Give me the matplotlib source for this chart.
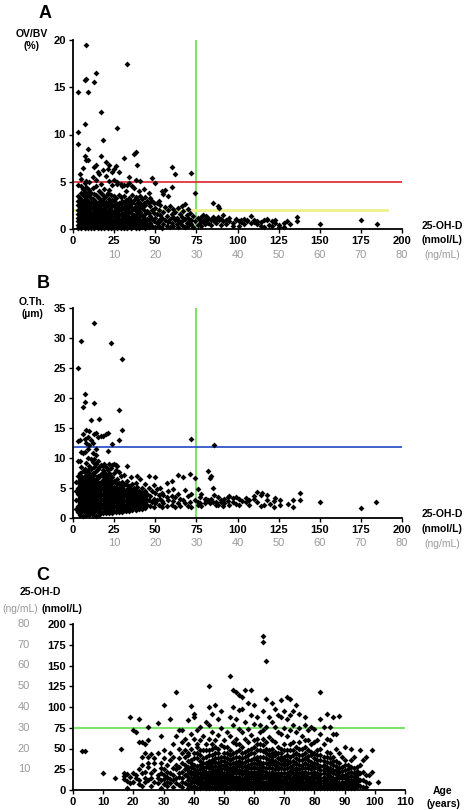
import matplotlib.pyplot as plt

plt.rcParams['font.family'] = ['Liberation Sans', 'DejaVu Sans']
plt.rcParams['font.weight'] = 'bold'

# Panel A: 25-OH-D (nmol/L) -> OV/BV (%) ; (x, [y values at that x])
a_cols = [
    (3, [0.1, 0.4, 0.8, 1.2, 1.6, 2.0, 2.5, 3.0, 3.5, 4.7, 10.3, 9.0, 14.5]),
    (4, [0.2, 0.6, 1.0, 1.4, 1.8, 2.3, 2.8, 3.3, 5.8]),
    (5, [0.1, 0.5, 0.9, 1.3, 1.7, 2.2, 2.6, 3.1, 3.8, 4.5, 5.3]),
    (6, [0.3, 0.7, 1.1, 1.5, 1.9, 2.4, 2.9, 3.6, 4.2, 6.5]),
    (7, [0.1, 0.5, 0.9, 1.3, 1.7, 2.1, 2.7, 3.2, 3.9, 4.9, 15.8, 11.1, 7.7]),
    (8, [0.2, 0.6, 1.0, 1.4, 1.8, 2.3, 2.8, 3.4, 4.4, 5.1, 19.5, 15.9, 7.3]),
    (9, [0.1, 0.4, 0.8, 1.2, 1.6, 2.0, 2.5, 3.0, 3.7, 4.2, 14.5, 8.5, 7.3]),
    (10, [0.3, 0.7, 1.1, 1.5, 1.9, 2.4, 2.9, 3.5, 4.1, 5.0]),
    (11, [0.1, 0.5, 0.9, 1.3, 1.7, 2.2, 2.7, 3.3, 3.8]),
    (12, [0.2, 0.6, 1.0, 1.4, 1.8, 2.3, 2.8, 3.2, 4.3, 5.5]),
    (13, [0.1, 0.5, 0.9, 1.3, 1.7, 2.1, 2.6, 3.1, 3.7, 6.6, 15.6]),
    (14, [0.3, 0.7, 1.1, 1.5, 1.9, 2.4, 2.9, 3.6, 4.6, 5.2, 16.5, 6.8]),
    (15, [0.1, 0.5, 0.9, 1.3, 1.8, 2.2, 2.7, 3.4, 6.0]),
    (16, [0.2, 0.6, 1.0, 1.4, 1.8, 2.3, 2.8, 3.3, 4.0, 5.8]),
    (17, [0.1, 0.4, 0.8, 1.2, 1.7, 2.1, 2.6, 3.1, 3.8, 4.8, 12.4, 7.7]),
    (18, [0.3, 0.7, 1.1, 1.5, 2.0, 2.5, 3.0, 3.6, 6.2, 9.4]),
    (19, [0.1, 0.5, 0.9, 1.3, 1.7, 2.2, 2.7, 3.3, 4.2]),
    (20, [0.2, 0.6, 1.0, 1.4, 1.9, 2.4, 2.9, 3.5, 5.6, 7.1]),
    (21, [0.1, 0.5, 0.9, 1.3, 1.8, 2.3, 2.8, 3.8, 6.3]),
    (22, [0.3, 0.7, 1.1, 1.6, 2.0, 2.5, 3.2, 4.1, 5.1, 6.8]),
    (23, [0.1, 0.5, 0.9, 1.3, 1.8, 2.3, 2.9, 3.6]),
    (24, [0.2, 0.6, 1.0, 1.5, 1.9, 2.5, 3.1, 4.7, 6.0]),
    (25, [0.1, 0.5, 0.9, 1.4, 1.8, 2.4, 3.0, 3.5, 5.2, 6.4]),
    (26, [0.3, 0.7, 1.1, 1.6, 2.1, 2.7, 3.3, 6.7]),
    (27, [0.1, 0.5, 0.9, 1.4, 1.9, 2.5, 4.8, 5.0, 10.7]),
    (28, [0.2, 0.6, 1.1, 1.6, 2.2, 2.8, 3.6, 6.0]),
    (29, [0.1, 0.5, 1.0, 1.5, 2.0, 2.6, 3.4, 4.8]),
    (30, [0.3, 0.7, 1.2, 1.7, 2.3, 3.0, 4.6]),
    (31, [0.1, 0.5, 1.0, 1.5, 2.1, 2.8, 3.5, 4.7, 7.5]),
    (32, [0.2, 0.7, 1.2, 1.8, 2.4, 3.1, 4.0]),
    (33, [0.1, 0.5, 1.0, 1.6, 2.2, 2.9, 4.7, 17.5]),
    (34, [0.3, 0.8, 1.3, 1.9, 2.6, 3.3, 4.9, 5.5]),
    (35, [0.1, 0.5, 1.1, 1.7, 2.3, 3.0]),
    (36, [0.2, 0.7, 1.3, 2.0, 2.7, 3.6, 4.5]),
    (37, [0.4, 0.9, 1.5, 2.2, 3.1, 4.3, 7.9]),
    (38, [0.1, 0.6, 1.2, 1.9, 2.6, 3.4, 5.2, 8.2]),
    (39, [0.3, 0.9, 1.6, 2.4, 3.2, 6.8]),
    (40, [0.1, 0.6, 1.3, 2.1, 2.9, 4.0]),
    (41, [0.4, 1.0, 1.8, 2.6, 3.5, 5.1]),
    (42, [0.2, 0.8, 1.5, 2.3, 3.2]),
    (43, [0.5, 1.2, 2.0, 2.8, 4.2]),
    (44, [0.1, 0.7, 1.6, 2.5, 3.4]),
    (45, [0.4, 1.1, 1.9, 3.0]),
    (46, [0.2, 0.9, 1.7, 2.7, 3.8]),
    (47, [0.6, 1.4, 2.4, 3.3]),
    (48, [0.3, 1.1, 2.0, 3.0, 5.4]),
    (49, [0.8, 1.7, 2.8]),
    (50, [0.2, 1.2, 2.2, 4.9]),
    (51, [0.6, 1.6, 2.8]),
    (52, [0.3, 1.0, 2.0, 3.0]),
    (53, [0.8, 1.5, 2.5]),
    (54, [0.1, 1.2, 4.0]),
    (55, [0.5, 1.8, 3.7]),
    (56, [0.9, 2.3, 4.1]),
    (57, [0.3, 1.4]),
    (58, [0.7, 2.0, 3.5]),
    (59, [0.2, 1.1, 2.4]),
    (60, [0.6, 1.6, 4.4, 6.6]),
    (61, [0.3, 1.3, 2.1]),
    (62, [0.9, 1.8, 5.8]),
    (63, [0.5, 1.2]),
    (64, [0.2, 1.0, 2.2]),
    (65, [0.7, 1.6]),
    (66, [0.4, 1.3, 2.4]),
    (67, [0.9, 1.9]),
    (68, [0.2, 1.1, 2.6]),
    (69, [0.6, 1.5]),
    (70, [0.3, 1.2, 2.1]),
    (71, [0.8, 1.7]),
    (72, [0.5, 1.0, 5.9]),
    (73, [0.2, 1.4]),
    (74, [3.8, 0.8]),
    (76, [0.4, 1.2]),
    (77, [0.9, 0.6]),
    (78, [1.3, 0.3]),
    (79, [0.8, 1.5]),
    (80, [1.1, 0.5]),
    (81, [0.9, 1.4]),
    (82, [0.6, 1.2]),
    (84, [1.0, 0.4]),
    (85, [1.3, 2.8]),
    (86, [0.8, 1.2]),
    (87, [1.0, 0.6]),
    (88, [1.3, 2.4]),
    (89, [2.2, 0.9]),
    (90, [1.1, 0.4]),
    (91, [1.5, 0.8]),
    (93, [1.0, 0.5]),
    (95, [0.8, 1.2]),
    (97, [0.6, 0.3]),
    (99, [1.0, 1.1]),
    (101, [0.8, 0.3]),
    (102, [1.0, 0.7]),
    (104, [1.1, 0.5]),
    (106, [0.9, 0.8]),
    (108, [1.4, 0.6]),
    (110, [1.0, 0.7]),
    (112, [0.8, 0.5]),
    (114, [0.7, 0.3]),
    (116, [0.9, 0.2]),
    (118, [1.0, 1.1]),
    (119, [0.4]),
    (121, [0.8, 0.3]),
    (123, [0.9, 0.6]),
    (125, [0.2, 0.4]),
    (128, [0.6, 0.2]),
    (130, [0.8]),
    (132, [0.5]),
    (136, [0.8, 1.3]),
    (150, [0.5]),
    (175, [1.0]),
    (185, [0.5]),
]

# Panel B: 25-OH-D (nmol/L) -> O.Th. (um)
b_cols = [
    (2, [1.5, 3.0, 4.5, 6.0]),
    (3, [1.0, 2.0, 3.0, 4.0, 5.0, 6.0, 7.0, 9.5, 12.8, 25.0]),
    (4, [0.5, 1.5, 2.5, 3.5, 4.5, 5.5, 6.5, 7.5, 9.5, 13.0]),
    (5, [1.0, 2.0, 3.0, 4.0, 5.0, 6.0, 7.0, 8.5, 11.0, 29.5]),
    (6, [0.3, 1.5, 2.5, 3.5, 4.5, 5.5, 6.5, 7.8, 10.8, 14.0, 18.5]),
    (7, [1.0, 2.0, 3.0, 4.0, 5.0, 6.0, 7.0, 8.2, 11.0, 13.2, 20.7, 19.4]),
    (8, [0.5, 1.5, 2.5, 3.5, 4.5, 5.5, 6.5, 7.5, 9.2, 12.5, 14.7]),
    (9, [1.0, 2.0, 3.0, 4.0, 5.0, 6.0, 7.0, 8.0, 10.0, 13.5, 11.5]),
    (10, [0.5, 1.5, 2.5, 3.5, 4.5, 5.5, 6.5, 7.5, 8.7, 12.2, 14.5]),
    (11, [1.0, 2.0, 3.0, 4.0, 5.0, 6.0, 7.0, 8.2, 9.8, 13.0, 16.3]),
    (12, [0.5, 1.5, 2.5, 3.5, 4.5, 5.5, 6.5, 7.5, 9.3, 10.8, 12.5]),
    (13, [1.0, 2.0, 3.0, 4.0, 5.0, 6.0, 7.2, 8.5, 9.9, 14.0, 32.5, 19.2]),
    (14, [0.3, 1.5, 2.5, 3.5, 4.5, 5.5, 6.5, 7.8, 9.0, 11.5, 10.5, 14.2]),
    (15, [1.0, 2.0, 3.0, 4.0, 5.0, 6.0, 7.0, 8.2, 9.5, 13.5]),
    (16, [0.5, 1.5, 2.5, 3.5, 4.5, 5.5, 6.8, 8.5, 16.5]),
    (17, [1.0, 2.0, 3.0, 4.0, 5.0, 6.0, 7.3, 8.9, 13.7]),
    (18, [0.8, 1.6, 2.4, 3.2, 4.0, 4.8, 5.6, 6.4, 7.2, 8.0, 8.7, 13.6]),
    (19, [1.2, 2.0, 2.8, 3.6, 4.4, 5.2, 6.0, 6.8, 7.6, 9.0]),
    (20, [0.8, 1.6, 2.4, 3.2, 4.0, 4.8, 5.6, 6.4, 7.2, 8.5, 14.0]),
    (21, [1.2, 2.0, 2.8, 3.6, 4.4, 5.2, 6.0, 6.8, 8.0, 11.2, 14.2]),
    (22, [0.8, 1.6, 2.4, 3.2, 4.0, 4.8, 5.6, 6.6, 7.5, 9.0]),
    (23, [1.2, 2.0, 2.8, 3.6, 4.4, 5.2, 6.2, 7.0, 8.3, 29.2]),
    (24, [0.8, 1.6, 2.4, 3.2, 4.0, 4.8, 5.8, 6.8, 8.8, 12.4]),
    (25, [1.2, 2.0, 2.8, 3.6, 4.4, 5.2, 6.2, 7.5, 9.0]),
    (26, [1.0, 1.8, 2.6, 3.4, 4.2, 5.0, 6.0, 8.0, 8.8]),
    (27, [1.4, 2.2, 3.0, 3.8, 4.6, 5.6, 6.5, 8.7]),
    (28, [1.0, 1.8, 2.6, 3.4, 4.2, 5.0, 5.8, 7.6, 18.0, 13.0]),
    (29, [1.4, 2.2, 3.0, 3.8, 4.6, 5.4, 7.0]),
    (30, [1.0, 1.8, 2.6, 3.4, 4.2, 5.0, 6.0, 26.5, 14.7]),
    (31, [1.4, 2.2, 3.0, 3.8, 4.6, 5.5, 7.2]),
    (32, [1.2, 2.0, 2.8, 3.6, 4.4, 5.6]),
    (33, [1.6, 2.4, 3.2, 4.0, 4.8, 6.1, 8.6]),
    (34, [1.2, 2.0, 2.8, 3.6, 4.4, 5.4]),
    (35, [1.6, 2.4, 3.2, 4.0, 4.8, 6.8]),
    (36, [1.4, 2.2, 3.0, 3.8, 4.6, 5.6]),
    (37, [1.8, 2.6, 3.4, 4.2, 5.0]),
    (38, [1.4, 2.2, 3.0, 3.8, 4.6, 5.8]),
    (39, [1.8, 2.6, 3.4, 4.2, 5.1, 7.0]),
    (40, [1.5, 2.3, 3.0, 3.8, 4.5]),
    (41, [1.9, 2.7, 3.5, 4.3, 6.5]),
    (42, [1.5, 2.4, 3.3, 4.2, 5.0]),
    (43, [2.0, 2.8, 3.6, 4.4]),
    (44, [1.7, 2.6, 3.5, 4.5, 5.6]),
    (45, [2.2, 3.0, 4.0]),
    (46, [3.0, 5.0, 7.0]),
    (47, [2.0, 3.6]),
    (48, [2.7, 4.5]),
    (49, [1.8, 3.2, 5.5]),
    (50, [2.5, 4.2, 6.8]),
    (51, [3.0, 4.8]),
    (52, [2.2, 3.8]),
    (53, [3.2, 5.0]),
    (54, [1.8, 2.8, 4.2]),
    (55, [2.5, 3.8]),
    (57, [2.0, 3.5, 5.8]),
    (58, [3.0, 4.5]),
    (60, [2.2, 3.6, 6.2]),
    (61, [2.8, 4.8]),
    (62, [1.8, 3.5]),
    (64, [2.5, 4.0, 7.2]),
    (65, [2.0, 3.2]),
    (67, [3.0, 6.8]),
    (68, [2.5, 4.6]),
    (70, [2.0, 3.6]),
    (71, [2.7, 7.3]),
    (72, [1.8, 4.0, 13.2]),
    (74, [3.0, 6.6]),
    (76, [2.2, 2.7, 4.8]),
    (77, [3.5, 2.5]),
    (78, [2.0, 4.0]),
    (80, [3.1, 2.5]),
    (81, [2.8, 3.2]),
    (82, [7.8, 3.0]),
    (83, [2.5, 6.6]),
    (84, [3.2, 7.0]),
    (85, [2.6, 5.0]),
    (86, [12.2, 3.8]),
    (87, [2.2, 2.6]),
    (88, [3.5, 2.2]),
    (90, [3.0, 2.7]),
    (91, [2.0]),
    (92, [3.2, 2.5]),
    (94, [2.8, 3.5]),
    (95, [3.7, 2.2]),
    (97, [3.3, 2.6]),
    (99, [3.5, 2.4]),
    (101, [3.2, 2.1]),
    (103, [2.8]),
    (105, [3.3, 2.6]),
    (107, [3.0, 2.2]),
    (110, [3.6, 3.2]),
    (112, [4.4, 2.6]),
    (114, [3.8, 2.0]),
    (115, [4.2]),
    (116, [2.1]),
    (118, [3.0, 3.8]),
    (120, [2.4]),
    (122, [2.8, 1.8]),
    (123, [3.3]),
    (126, [3.0, 2.2]),
    (131, [2.4]),
    (134, [3.0, 1.8]),
    (138, [4.2, 3.0]),
    (150, [2.6]),
    (175, [1.6]),
    (184, [2.6]),
]

# Panel C: Age (years) -> 25-OH-D (nmol/L)
c_cols = [
    (3, [47]), (4, [47]), (10, [21]), (14, [15]), (16, [49]),
    (17, [20, 17, 13]),
    (18, [19, 11, 3]),
    (19, [16, 88, 8]),
    (20, [72, 21, 10]),
    (21, [70, 14, 18]),
    (22, [85, 58, 25, 12, 7]),
    (23, [58, 40, 20, 5, 30]),
    (24, [56, 10, 22, 44, 15]),
    (25, [60, 33, 28, 12, 76, 40]),
    (26, [43, 5, 20, 14]),
    (27, [38, 10, 24, 32]),
    (28, [81, 15, 18, 9, 45]),
    (29, [65, 33, 27, 3, 12, 20]),
    (30, [102, 48, 38, 18, 25, 13, 7]),
    (31, [22, 16, 10, 5, 30]),
    (32, [86, 45, 20, 13, 8, 36]),
    (33, [40, 55, 27, 18, 4, 12]),
    (34, [118, 65, 25, 30, 14, 9]),
    (35, [50, 72, 38, 20, 16, 6, 28]),
    (36, [72, 45, 58, 10, 22, 33, 4, 15]),
    (37, [62, 30, 48, 18, 8, 25, 40]),
    (38, [84, 55, 42, 28, 12, 20, 3, 6, 35]),
    (39, [101, 68, 50, 36, 22, 15, 9, 4, 28]),
    (40, [92, 88, 62, 44, 30, 18, 11, 5, 2, 25]),
    (41, [72, 55, 38, 24, 14, 8, 3, 20, 45]),
    (42, [60, 76, 42, 30, 20, 12, 6, 2, 35]),
    (43, [48, 65, 28, 18, 10, 4, 24, 38]),
    (44, [82, 55, 40, 32, 22, 14, 8, 3, 16]),
    (45, [125, 100, 78, 62, 48, 35, 26, 18, 11, 5, 2]),
    (46, [92, 70, 56, 42, 32, 22, 14, 8, 4, 28]),
    (47, [102, 60, 45, 34, 24, 16, 10, 5, 2, 38]),
    (48, [85, 66, 50, 38, 28, 18, 12, 6, 3, 22]),
    (49, [95, 75, 54, 40, 30, 20, 13, 7, 2, 25]),
    (50, [60, 45, 35, 26, 18, 12, 6, 3, 9, 15]),
    (51, [70, 52, 38, 28, 20, 14, 8, 4, 2, 32]),
    (52, [137, 88, 65, 48, 36, 26, 18, 11, 5, 2]),
    (53, [120, 100, 78, 58, 44, 33, 24, 16, 9, 4]),
    (54, [118, 85, 62, 46, 34, 24, 16, 9, 3, 28]),
    (55, [115, 96, 74, 55, 40, 30, 20, 12, 6, 2]),
    (56, [112, 98, 70, 52, 38, 28, 19, 12, 6, 3]),
    (57, [120, 82, 62, 46, 34, 24, 16, 9, 4, 2]),
    (58, [105, 74, 58, 42, 30, 22, 14, 8, 3, 36]),
    (59, [120, 90, 66, 50, 36, 26, 18, 10, 5, 2]),
    (60, [102, 80, 60, 44, 32, 22, 15, 8, 3, 28]),
    (61, [88, 62, 48, 36, 26, 18, 11, 5, 2, 40]),
    (62, [78, 70, 56, 40, 30, 20, 13, 7, 3, 24]),
    (63, [185, 178, 95, 72, 54, 40, 28, 18, 10, 4, 2]),
    (64, [155, 110, 76, 58, 44, 32, 22, 14, 7, 3]),
    (65, [88, 64, 48, 36, 26, 17, 10, 5, 2, 30]),
    (66, [105, 82, 60, 44, 32, 22, 14, 8, 3, 40]),
    (67, [98, 76, 58, 42, 30, 20, 13, 6, 2, 35]),
    (68, [90, 70, 52, 38, 28, 18, 11, 5, 2, 25]),
    (69, [108, 88, 68, 50, 36, 26, 17, 9, 4, 44]),
    (70, [95, 75, 55, 40, 30, 20, 12, 6, 2, 33]),
    (71, [112, 85, 65, 48, 36, 26, 17, 10, 4, 2]),
    (72, [110, 90, 72, 56, 40, 28, 19, 11, 5, 2]),
    (73, [95, 78, 58, 42, 30, 20, 12, 6, 2, 35]),
    (74, [102, 70, 52, 38, 27, 18, 10, 4, 2, 24]),
    (75, [92, 75, 58, 42, 30, 20, 12, 6, 2]),
    (76, [65, 50, 36, 26, 17, 10, 4, 2, 22]),
    (77, [88, 78, 60, 44, 32, 22, 14, 7, 3]),
    (78, [60, 72, 48, 36, 26, 16, 9, 4, 2]),
    (79, [76, 55, 42, 30, 20, 12, 6, 2, 34]),
    (80, [74, 58, 44, 32, 22, 14, 7, 3, 26]),
    (81, [60, 48, 36, 26, 17, 10, 4, 2]),
    (82, [118, 86, 68, 50, 36, 24, 15, 8, 3]),
    (83, [76, 55, 40, 30, 20, 12, 6, 2, 28]),
    (84, [92, 62, 46, 34, 24, 15, 8, 3]),
    (85, [76, 60, 44, 32, 22, 14, 7, 2]),
    (86, [88, 68, 40, 30, 20, 12, 5, 2]),
    (87, [68, 50, 35, 24, 15, 8, 3]),
    (88, [89, 45, 32, 22, 14, 6, 2]),
    (89, [40, 28, 18, 10, 4, 2]),
    (90, [52, 36, 24, 14, 6, 2]),
    (91, [30, 20, 12, 5, 2]),
    (92, [50, 36, 22, 12, 5]),
    (93, [40, 26, 16, 8, 3]),
    (94, [28, 18, 10, 4]),
    (95, [48, 30, 20, 12, 5]),
    (96, [36, 22, 12, 4]),
    (97, [40, 18, 10, 4]),
    (98, [18, 8]),
    (99, [48, 22]),
    (101, [10]),
]

# more panel C points in the crowded low band
c_more = [
    (38, [16, 24, 45]), (39, [11, 19, 33]), (40, [14, 22, 38]),
    (41, [11, 17, 29, 52]), (42, [9, 16, 25, 48]), (43, [7, 14, 21, 33]),
    (44, [5, 11, 19, 28, 48]), (45, [8, 14, 22, 30, 42]),
    (46, [11, 18, 25, 36, 50]), (47, [8, 13, 20, 29, 52]),
    (48, [9, 15, 25, 33, 45]), (49, [5, 10, 17, 22, 35]),
    (50, [21, 30, 40, 52]), (51, [11, 17, 24, 45]),
    (52, [8, 14, 22, 31, 42]), (53, [6, 12, 20, 28, 38]),
    (54, [6, 12, 20, 31, 40, 55]), (55, [9, 16, 24, 35, 48]),
    (56, [9, 15, 23, 33, 45]), (57, [6, 12, 20, 29, 40]),
    (58, [5, 11, 18, 26, 48]), (59, [7, 14, 22, 31, 44]),
    (60, [5, 11, 18, 26, 38, 52]), (61, [8, 14, 22, 31, 55]),
    (62, [5, 10, 17, 27, 34, 48]), (63, [6, 14, 23, 33, 47, 62]),
    (64, [5, 10, 18, 26, 38, 50]), (65, [7, 13, 21, 33, 42]),
    (66, [5, 11, 18, 27, 36, 50]), (67, [4, 9, 16, 25, 46]),
    (68, [7, 14, 21, 33, 45]), (69, [6, 12, 21, 31, 40]),
    (70, [4, 9, 16, 25, 36, 48]), (71, [7, 14, 21, 31, 42]),
    (72, [8, 14, 23, 34, 48]), (73, [4, 9, 16, 25, 48]),
    (74, [7, 14, 21, 32, 44]), (75, [4, 9, 16, 25, 36, 50]),
    (76, [7, 13, 19, 30, 42]), (77, [5, 10, 18, 27, 38, 52]),
    (78, [6, 12, 20, 30, 41]), (79, [4, 9, 16, 25, 46]),
    (80, [5, 10, 18, 28, 38]), (81, [6, 13, 21, 31, 42]),
    (82, [5, 11, 19, 29, 42]), (83, [4, 9, 16, 24, 35]),
    (84, [5, 11, 19, 28, 40]), (85, [4, 10, 17, 27, 38]),
    (86, [8, 15, 24, 35]), (87, [5, 11, 19, 29]),
    (88, [4, 9, 17, 27]), (89, [7, 14, 23]), (90, [4, 10, 18, 30]),
    (91, [8, 16, 25]), (92, [3, 8, 17, 28]), (93, [6, 12, 21]),
    (94, [7, 14, 23]),
]

ng_labels = ['10', '20', '30', '40', '50', '60', '70', '80']
ng_pos = [25, 50, 75, 100, 125, 150, 175, 200]


def flatten(cols):
    xs, ys = [], []
    for x, vals in cols:
        for v in vals:
            xs.append(x)
            ys.append(v)
    return xs, ys


W, H = 466, 810
fig = plt.figure(figsize=(W / 100, H / 100), dpi=100)


def px_axes(l, t, r, b):
    return fig.add_axes([l / W, 1 - b / H, (r - l) / W, (b - t) / H])


def ftext(x, y, s, **kw):
    fig.text(x / W, 1 - y / H, s, ha='center', va='center', **kw)


def style(ax):
    for s in ['top', 'right']:
        ax.spines[s].set_visible(False)
    for s in ['left', 'bottom']:
        ax.spines[s].set_linewidth(1.3)
    ax.tick_params(direction='out', length=3, width=1, labelsize=8, pad=2)
    for lab in ax.get_xticklabels() + ax.get_yticklabels():
        lab.set_fontweight('bold')


grey = '#9a9a9a'
green = '#7ee36a'
mk = dict(marker='D', s=9, c='black', linewidths=0, clip_on=False, zorder=3)

# ---- Panel A
ax1 = px_axes(73, 40, 402, 229)
xa, ya = flatten(a_cols)
ax1.scatter(xa, ya, **mk)
ax1.plot([75, 75], [0, 20], color=green, lw=1.5, zorder=2)
ax1.plot([0, 200], [5, 5], color='#e0343c', lw=1.3, zorder=2)
ax1.plot([0, 191], [2, 2], color='#eef08a', lw=2, zorder=2)
ax1.set_xlim(0, 200)
ax1.set_ylim(0, 20)
ax1.set_xticks(range(0, 201, 25))
ax1.set_yticks(range(0, 21, 5))
style(ax1)
for p, l in zip(ng_pos, ng_labels):
    ax1.text(p, -0.135, l, transform=ax1.get_xaxis_transform(), ha='center',
             va='center', fontsize=8, color=grey, fontweight='normal')
ftext(45, 13, 'A', fontsize=13)
ftext(32, 34, 'OV/BV', fontsize=7.5)
ftext(32, 46, '(%)', fontsize=7.5)
ftext(442, 226, '25-OH-D', fontsize=7.5)
ftext(442, 240, '(nmol/L)', fontsize=7.5)
ftext(442, 255, '(ng/mL)', fontsize=7.5, color=grey, fontweight='normal')

# ---- Panel B
ax2 = px_axes(73, 308, 402, 518)
xb, yb = flatten(b_cols)
ax2.scatter(xb, yb, **mk)
ax2.plot([75, 75], [0, 35], color=green, lw=1.5, zorder=2)
ax2.plot([0, 200], [11.8, 11.8], color='#2f55c8', lw=1.3, zorder=2)
ax2.set_xlim(0, 200)
ax2.set_ylim(0, 35)
ax2.set_xticks(range(0, 201, 25))
ax2.set_yticks(range(0, 36, 5))
style(ax2)
for p, l in zip(ng_pos, ng_labels):
    ax2.text(p, -0.12, l, transform=ax2.get_xaxis_transform(), ha='center',
             va='center', fontsize=8, color=grey, fontweight='normal')
ftext(43, 284, 'B', fontsize=13)
ftext(32, 302, 'O.Th.', fontsize=7.5)
ftext(32, 314, '(µm)', fontsize=7.5)
ftext(442, 514, '25-OH-D', fontsize=7.5)
ftext(442, 529, '(nmol/L)', fontsize=7.5)
ftext(442, 544, '(ng/mL)', fontsize=7.5, color=grey, fontweight='normal')

# ---- Panel C
ax3 = px_axes(73, 624, 405, 790)
xc, yc = flatten(c_cols + c_more)
ax3.scatter(xc, yc, **mk)
ax3.plot([0, 110], [75, 75], color=green, lw=1.5, zorder=2)
ax3.set_xlim(0, 110)
ax3.set_ylim(0, 200)
ax3.set_xticks(range(0, 111, 10))
ax3.set_yticks(range(0, 201, 25))
style(ax3)
for p, l in zip(ng_pos, ng_labels):
    ax3.text(-0.148, p, l, transform=ax3.get_yaxis_transform(), ha='center',
             va='center', fontsize=8, color=grey, fontweight='normal')
ftext(43, 576, 'C', fontsize=13)
ftext(40, 592, '25-OH-D', fontsize=7.5)
ftext(20, 609, '(ng/mL)', fontsize=7.5, color=grey, fontweight='normal')
ftext(62, 609, '(nmol/L)', fontsize=7.5)
ftext(443, 791, 'Age', fontsize=7.5)
ftext(443, 804, '(years)', fontsize=7.5)

fig.savefig('out.png', dpi=100)
